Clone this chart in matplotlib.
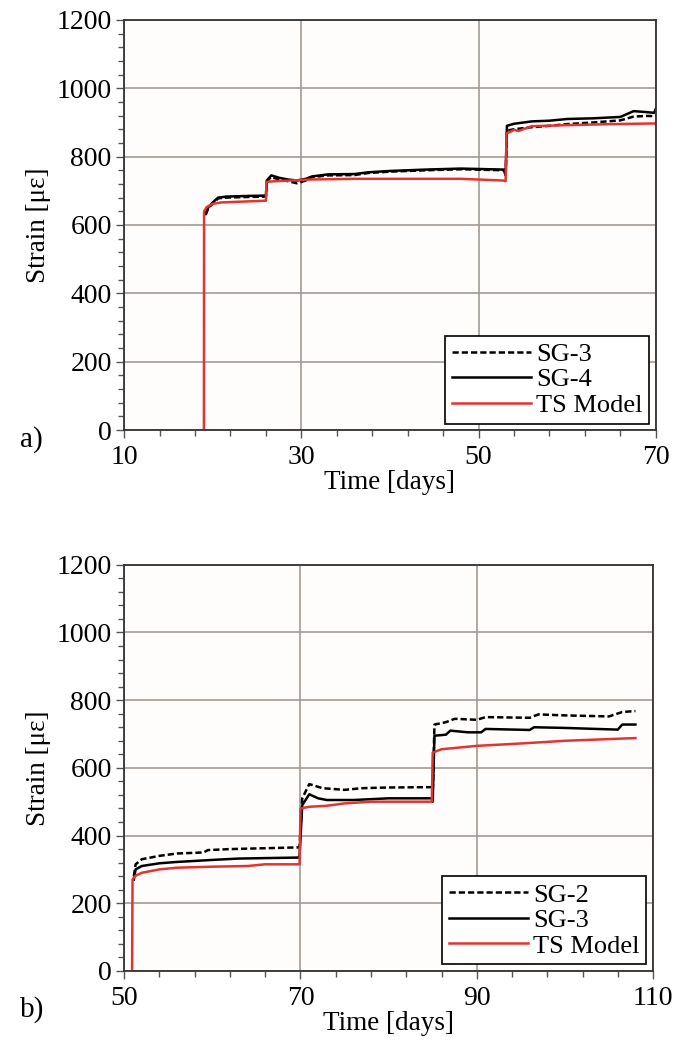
import numpy as np
import matplotlib
matplotlib.use('Agg')
import matplotlib.pyplot as plt
from matplotlib.ticker import MultipleLocator, FixedLocator

plt.rcParams['font.family'] = ['Liberation Serif', 'DejaVu Serif']
plt.rcParams['font.size'] = 14

# ---- panel a) ----
a_red_t = [19.0, 19.02, 19.3, 20.0, 21.0, 23.0, 26.0, 26.05, 27.0, 28.0, 31.0, 36.0, 42.0, 48.0, 52.8, 53.05, 53.15, 54.0, 54.5, 56.0, 60.0, 65.0, 70.0]
a_red_y = [0, 640, 652, 662, 666, 668, 671, 726, 728, 729, 733, 735, 735, 735, 730, 728, 868, 878, 875, 889, 892, 895, 897]

a_sg3_t = [19.2, 19.5, 20.0, 20.6, 21.5, 24.0, 26.0, 26.1, 26.6, 27.5, 28.5, 29.5, 30.5, 31.2, 33.0, 36.0, 37.5, 40.0, 44.0, 48.0, 52.9, 53.05, 53.2, 54.0, 56.0, 58.0, 60.0, 63.0, 66.0, 67.5, 69.0, 70.0]
a_sg3_y = [630, 650, 662, 678, 680, 682, 683, 728, 740, 733, 728, 722, 730, 740, 745, 746, 752, 756, 760, 763, 760, 742, 876, 880, 886, 890, 895, 900, 906, 917, 919, 918]

a_sg4_t = [19.2, 19.5, 20.0, 20.6, 21.5, 24.0, 26.0, 26.1, 26.6, 27.5, 28.5, 29.5, 30.5, 31.2, 33.0, 36.0, 37.5, 40.0, 44.0, 48.0, 52.9, 53.05, 53.2, 54.0, 56.0, 58.0, 60.0, 63.0, 66.0, 67.5, 69.0, 69.8, 70.0]
a_sg4_y = [632, 652, 666, 680, 683, 685, 686, 730, 745, 738, 733, 730, 735, 742, 748, 749, 754, 758, 762, 765, 762, 745, 890, 896, 903, 905, 910, 912, 916, 933, 930, 928, 940]

# ---- panel b) ----
b_red_t = [50.9, 50.95, 51.2, 52.0, 54.0, 56.0, 60.0, 64.0, 66.0, 69.9, 70.0, 71.0, 73.0, 75.0, 78.0, 84.9, 85.0, 86.0, 88.0, 90.0, 95.0, 100.0, 108.0]
b_red_y = [0, 270, 280, 290, 300, 305, 308, 310, 315, 315, 480, 485, 488, 495, 500, 500, 645, 655, 660, 665, 672, 680, 688]

b_sg2_t = [51.1, 51.3, 52.0, 54.0, 56.0, 59.0, 59.5, 62.0, 69.8, 69.9, 70.2, 71.0, 72.5, 75.0, 77.0, 80.0, 84.9, 85.0, 85.2, 86.5, 87.5, 90.0, 91.0, 96.0, 97.0, 100.0, 105.0, 106.5, 108.0]
b_sg2_y = [280, 315, 330, 340, 347, 350, 357, 360, 365, 370, 510, 552, 540, 535, 540, 542, 543, 520, 728, 735, 745, 742, 750, 748, 758, 755, 752, 765, 768]

b_sg3_t = [51.1, 51.3, 52.0, 54.0, 56.0, 60.0, 63.0, 69.8, 69.9, 70.2, 71.0, 72.0, 73.0, 76.0, 80.0, 84.9, 85.0, 85.2, 86.5, 87.0, 89.0, 90.5, 91.0, 96.0, 96.5, 100.0, 106.0, 106.5, 108.0]
b_sg3_y = [270, 300, 310, 318, 322, 328, 332, 335, 340, 490, 522, 510, 505, 505, 510, 510, 500, 695, 698, 710, 705, 705, 715, 712, 720, 718, 713, 728, 728]

a_xticks = [10, 30, 50, 70]
b_xticks = [50, 70, 90, 110]

red = '#e23431'
grid_c = '#a39a93'
face = '#fffdfc'

fig = plt.figure(figsize=(6.86, 10.44), dpi=100)
ax1 = fig.add_axes([0.181, 0.588, 0.775, 0.393])
ax2 = fig.add_axes([0.181, 0.070, 0.771, 0.389])


def style(ax, xticks):
    ax.set_facecolor(face)
    ax.set_xlim(xticks[0], xticks[-1])
    ax.set_ylim(0, 1200)
    ax.xaxis.set_major_locator(FixedLocator(xticks))
    ax.xaxis.set_minor_locator(FixedLocator(np.arange(xticks[0], xticks[-1] + 1, 4)))
    ax.yaxis.set_major_locator(MultipleLocator(200))
    ax.yaxis.set_minor_locator(MultipleLocator(40))
    ax.grid(True, which='major', color=grid_c, linewidth=1.2)
    ax.tick_params(which='both', direction='out', color='#555555', labelsize=20)
    ax.tick_params(which='major', length=6, width=1)
    ax.tick_params(which='minor', length=4, width=1)
    ax.tick_params(axis='x', pad=5)
    ax.tick_params(axis='y', pad=3)
    for s in ax.spines.values():
        s.set_color('#333333')
        s.set_linewidth(1.3)
    ax.set_xlabel('Time [days]', fontsize=19.5, labelpad=0)
    ax.set_ylabel('Strain [\u03bc\u03b5]', fontsize=19.5, labelpad=4)


style(ax1, a_xticks)
ax1.plot(a_sg3_t, a_sg3_y, color='black', lw=1.8, ls=(0, (2.5, 1.2)), label='SG-3')
ax1.plot(a_sg4_t, a_sg4_y, color='black', lw=1.8, label='SG-4')
ax1.plot(a_red_t, a_red_y, color=red, lw=1.8, label='TS Model')

style(ax2, b_xticks)
ax2.plot(b_sg2_t, b_sg2_y, color='black', lw=1.8, ls=(0, (2.5, 1.2)), label='SG-2')
ax2.plot(b_sg3_t, b_sg3_y, color='black', lw=1.8, label='SG-3')
ax2.plot(b_red_t, b_red_y, color=red, lw=1.8, label='TS Model')

for ax in (ax1, ax2):
    leg = ax.legend(loc='lower right', fontsize=19, fancybox=False, framealpha=1,
                    edgecolor='black', handlelength=3.0, handletextpad=0.2,
                    labelspacing=0.08, borderpad=0.25, borderaxespad=0.25)
    leg.get_frame().set_linewidth(1.2)

fig.text(20 / 686, 1 - 440 / 1044, 'a)', fontsize=21, va='center', ha='left')
fig.text(20 / 686, 1 - 1010 / 1044, 'b)', fontsize=21, va='center', ha='left')

fig.savefig('out.png', dpi=100)
